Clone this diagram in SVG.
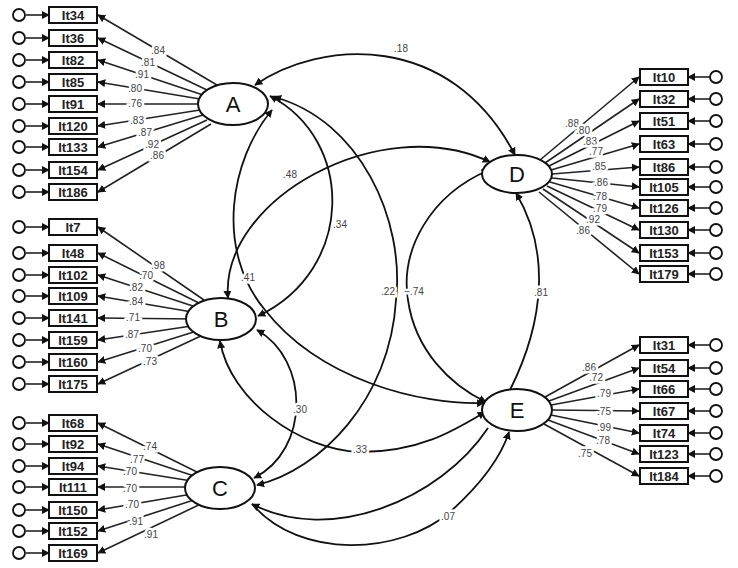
<svg xmlns="http://www.w3.org/2000/svg" width="738" height="568" viewBox="0 0 738 568">
<style>
.bx{fill:#fff;stroke:#111;stroke-width:2}
.bt{font-family:"Liberation Sans",Arial,sans-serif;font-weight:bold;font-size:13px;fill:#222;text-anchor:middle}
.lv{fill:#fff;stroke:#111;stroke-width:2}
.lt{font-family:"Liberation Sans",Arial,sans-serif;font-size:22px;fill:#111;text-anchor:middle}
.er{fill:#fff;stroke:#111;stroke-width:1.8}
.ld{stroke:#222;stroke-width:1.6;fill:none}
.cv{stroke:#111;stroke-width:1.8;fill:none}
.cf{font-family:"Liberation Sans",Arial,sans-serif;font-size:10px;fill:#444;text-anchor:middle;stroke:#fff;stroke-width:5;paint-order:stroke}
</style>
<defs>
<marker id="ar" viewBox="0 0 10 10" refX="9" refY="5" markerWidth="8" markerHeight="8" orient="auto-start-reverse" markerUnits="userSpaceOnUse"><path d="M0,0L10,5L0,10z" fill="#111"/></marker>
</defs>
<rect width="738" height="568" fill="#fff"/>
<g id="connectors">
<g class="ld" marker-end="url(#ar)">
<path d="M26,15H49"/><path d="M26,38H49"/><path d="M26,60H49"/><path d="M26,82H49"/><path d="M26,104H49"/><path d="M26,126H49"/><path d="M26,147H49"/><path d="M26,170H49"/><path d="M26,192H49"/>
<path d="M26,227H49"/><path d="M26,253H49"/><path d="M26,275H49"/><path d="M26,296H49"/><path d="M26,318H49"/><path d="M26,340H49"/><path d="M26,362H49"/><path d="M26,384H49"/>
<path d="M26,423H49"/><path d="M26,444H49"/><path d="M26,466H49"/><path d="M26,487H49"/><path d="M26,510H49"/><path d="M26,531H49"/><path d="M26,553H49"/>
<path d="M710,77H688"/><path d="M710,99H688"/><path d="M710,121H688"/><path d="M710,144H688"/><path d="M710,167H688"/><path d="M710,187H688"/><path d="M710,208H688"/><path d="M710,230H688"/><path d="M710,253H688"/><path d="M710,274H688"/>
<path d="M710,345H688"/><path d="M710,368H688"/><path d="M710,389H688"/><path d="M710,411H688"/><path d="M710,433H688"/><path d="M710,454H688"/><path d="M710,476H688"/>
</g>
<g class="ld" marker-end="url(#ar)">
<path d="M217,85L98,15"/><path d="M207,90L98,38"/><path d="M203,95L98,60"/><path d="M200,99L98,82"/><path d="M199,104L98,104"/><path d="M200,110L98,126"/><path d="M203,115L98,147"/><path d="M207,120L98,170"/><path d="M211,124L98,192"/>
<path d="M204,300L98,227"/><path d="M201,304L98,253"/><path d="M199,308L98,275"/><path d="M198,313L98,296"/><path d="M197,319L98,318"/><path d="M198,325L98,340"/><path d="M200,330L98,362"/><path d="M203,335L98,384"/>
<path d="M203,475L98,423"/><path d="M200,478L98,444"/><path d="M198,482L98,466"/><path d="M197,487L98,487"/><path d="M198,493L98,510"/><path d="M200,498L98,531"/><path d="M205,502L98,553"/>
<path d="M540,160L639,77"/><path d="M545,163L639,99"/><path d="M549,166L639,121"/><path d="M551,170L639,144"/><path d="M552,174L639,167"/><path d="M552,178L639,187"/><path d="M550,182L639,208"/><path d="M547,186L639,230"/><path d="M543,189L639,253"/><path d="M539,192L639,274"/>
<path d="M545,397L639,345"/><path d="M549,401L639,368"/><path d="M551,405L639,389"/><path d="M552,410L639,411"/><path d="M551,415L639,433"/><path d="M548,420L639,454"/><path d="M544,424L639,476"/>
</g>
<g class="cv">
<path d="M255,85C320,40 450,30 515,155" marker-start="url(#ar)" marker-end="url(#ar)"/>
<path d="M228,298C220,200 380,110 490,162" marker-start="url(#ar)" marker-end="url(#ar)"/>
<path d="M270,96C355,140 355,270 258,316" marker-start="url(#ar)" marker-end="url(#ar)"/>
<path d="M272,110C230,160 215,250 265,310C320,380 420,405 484,403" marker-start="url(#ar)" marker-end="url(#ar)"/>
<path d="M274,97C360,120 405,220 396,300C390,400 320,470 257,485" marker-start="url(#ar)" marker-end="url(#ar)"/>
<path d="M489,170C430,195 400,250 408,300C415,350 450,385 486,402" marker-start="url(#ar)" marker-end="url(#ar)"/>
<path d="M510,390C545,320 550,250 516,193" marker-end="url(#ar)"/>
<path d="M257,330C310,360 310,450 254,478" marker-start="url(#ar)" marker-end="url(#ar)"/>
<path d="M220,341C230,400 300,450 360,452C420,452 455,430 485,412" marker-start="url(#ar)" marker-end="url(#ar)"/>
<path d="M488,428C440,500 330,545 252,504" marker-end="url(#ar)"/>
<path d="M252,504C300,560 400,555 450,512C480,485 500,460 509,432" marker-end="url(#ar)"/>
</g>
<g>
<text class="cf" x="401" y="52">.18</text>
<text class="cf" x="290" y="178">.48</text>
<text class="cf" x="340" y="228">.34</text>
<text class="cf" x="248" y="281">.41</text>
<text class="cf" x="388" y="295">.22</text>
<text class="cf" x="414" y="295">−.74</text>
<text class="cf" x="541" y="296">.81</text>
<text class="cf" x="300" y="413">.30</text>
<text class="cf" x="360" y="453">.33</text>
<text class="cf" x="448" y="520">.07</text>
</g>
<g>
<text class="cf" x="158" y="54">.84</text><text class="cf" x="148" y="66">.81</text><text class="cf" x="142" y="78">.91</text><text class="cf" x="135" y="92">.80</text><text class="cf" x="135" y="107">.76</text><text class="cf" x="137" y="124">.83</text><text class="cf" x="145" y="136">.87</text><text class="cf" x="152" y="148">.92</text><text class="cf" x="157" y="159">.86</text>
<text class="cf" x="158" y="269">.98</text><text class="cf" x="146" y="279">.70</text><text class="cf" x="136" y="291">.82</text><text class="cf" x="136" y="305">.84</text><text class="cf" x="133" y="321">.71</text><text class="cf" x="132" y="338">.87</text><text class="cf" x="145" y="352">.70</text><text class="cf" x="150" y="365">.73</text>
<text class="cf" x="150" y="450">.74</text><text class="cf" x="137" y="463">.77</text><text class="cf" x="130" y="475">.70</text><text class="cf" x="130" y="492">.70</text><text class="cf" x="132" y="508">.70</text><text class="cf" x="136" y="525">.91</text><text class="cf" x="151" y="538">.91</text>
<text class="cf" x="572" y="127">.88</text><text class="cf" x="583" y="134">.80</text><text class="cf" x="590" y="145">.83</text><text class="cf" x="596" y="155">.77</text><text class="cf" x="599" y="170">.85</text><text class="cf" x="601" y="186">.86</text><text class="cf" x="600" y="200">.78</text><text class="cf" x="600" y="212">.79</text><text class="cf" x="593" y="223">.92</text><text class="cf" x="583" y="234">.86</text>
<text class="cf" x="589" y="371">.86</text><text class="cf" x="596" y="381">.72</text><text class="cf" x="604" y="397">.79</text><text class="cf" x="604" y="415">.75</text><text class="cf" x="604" y="431">.99</text><text class="cf" x="603" y="444">.78</text><text class="cf" x="585" y="457">.75</text>
</g>
</g>
<g id="A"><ellipse class="lv" cx="233" cy="104" rx="35" ry="21"/><text class="lt" x="233" y="112">A</text></g>
<g id="B"><ellipse class="lv" cx="221" cy="319" rx="35" ry="21"/><text class="lt" x="221" y="327">B</text></g>
<g id="C"><ellipse class="lv" cx="220" cy="488" rx="35" ry="21"/><text class="lt" x="220" y="496">C</text></g>
<g id="D"><ellipse class="lv" cx="517" cy="174" rx="35" ry="19"/><text class="lt" x="517" y="182">D</text></g>
<g id="E"><ellipse class="lv" cx="517" cy="410" rx="35" ry="21"/><text class="lt" x="517" y="418">E</text></g>
<g id="left-items">
<g id="It34"><circle class="er" cx="19" cy="15" r="6"/><rect class="bx" x="49" y="7" width="48" height="16"/><text class="bt" x="73" y="20">It34</text></g>
<g id="It36"><circle class="er" cx="19" cy="38" r="6"/><rect class="bx" x="49" y="30" width="48" height="16"/><text class="bt" x="73" y="43">It36</text></g>
<g id="It82"><circle class="er" cx="19" cy="60" r="6"/><rect class="bx" x="49" y="52" width="48" height="16"/><text class="bt" x="73" y="65">It82</text></g>
<g id="It85"><circle class="er" cx="19" cy="82" r="6"/><rect class="bx" x="49" y="74" width="48" height="16"/><text class="bt" x="73" y="87">It85</text></g>
<g id="It91"><circle class="er" cx="19" cy="104" r="6"/><rect class="bx" x="49" y="96" width="48" height="16"/><text class="bt" x="73" y="109">It91</text></g>
<g id="It120"><circle class="er" cx="19" cy="126" r="6"/><rect class="bx" x="49" y="118" width="48" height="16"/><text class="bt" x="73" y="131">It120</text></g>
<g id="It133"><circle class="er" cx="19" cy="147" r="6"/><rect class="bx" x="49" y="139" width="48" height="16"/><text class="bt" x="73" y="152">It133</text></g>
<g id="It154"><circle class="er" cx="19" cy="170" r="6"/><rect class="bx" x="49" y="162" width="48" height="16"/><text class="bt" x="73" y="175">It154</text></g>
<g id="It186"><circle class="er" cx="19" cy="192" r="6"/><rect class="bx" x="49" y="184" width="48" height="16"/><text class="bt" x="73" y="197">It186</text></g>
<g id="It7"><circle class="er" cx="19" cy="227" r="6"/><rect class="bx" x="49" y="219" width="48" height="16"/><text class="bt" x="73" y="232">It7</text></g>
<g id="It48"><circle class="er" cx="19" cy="253" r="6"/><rect class="bx" x="49" y="245" width="48" height="16"/><text class="bt" x="73" y="258">It48</text></g>
<g id="It102"><circle class="er" cx="19" cy="275" r="6"/><rect class="bx" x="49" y="267" width="48" height="16"/><text class="bt" x="73" y="280">It102</text></g>
<g id="It109"><circle class="er" cx="19" cy="296" r="6"/><rect class="bx" x="49" y="288" width="48" height="16"/><text class="bt" x="73" y="301">It109</text></g>
<g id="It141"><circle class="er" cx="19" cy="318" r="6"/><rect class="bx" x="49" y="310" width="48" height="16"/><text class="bt" x="73" y="323">It141</text></g>
<g id="It159"><circle class="er" cx="19" cy="340" r="6"/><rect class="bx" x="49" y="332" width="48" height="16"/><text class="bt" x="73" y="345">It159</text></g>
<g id="It160"><circle class="er" cx="19" cy="362" r="6"/><rect class="bx" x="49" y="354" width="48" height="16"/><text class="bt" x="73" y="367">It160</text></g>
<g id="It175"><circle class="er" cx="19" cy="384" r="6"/><rect class="bx" x="49" y="376" width="48" height="16"/><text class="bt" x="73" y="389">It175</text></g>
<g id="It68"><circle class="er" cx="19" cy="423" r="6"/><rect class="bx" x="49" y="415" width="48" height="16"/><text class="bt" x="73" y="428">It68</text></g>
<g id="It92"><circle class="er" cx="19" cy="444" r="6"/><rect class="bx" x="49" y="436" width="48" height="16"/><text class="bt" x="73" y="449">It92</text></g>
<g id="It94"><circle class="er" cx="19" cy="466" r="6"/><rect class="bx" x="49" y="458" width="48" height="16"/><text class="bt" x="73" y="471">It94</text></g>
<g id="It111"><circle class="er" cx="19" cy="487" r="6"/><rect class="bx" x="49" y="479" width="48" height="16"/><text class="bt" x="73" y="492">It111</text></g>
<g id="It150"><circle class="er" cx="19" cy="510" r="6"/><rect class="bx" x="49" y="502" width="48" height="16"/><text class="bt" x="73" y="515">It150</text></g>
<g id="It152"><circle class="er" cx="19" cy="531" r="6"/><rect class="bx" x="49" y="523" width="48" height="16"/><text class="bt" x="73" y="536">It152</text></g>
<g id="It169"><circle class="er" cx="19" cy="553" r="6"/><rect class="bx" x="49" y="545" width="48" height="16"/><text class="bt" x="73" y="558">It169</text></g>
</g>
<g id="right-items">
<g id="It10"><circle class="er" cx="716" cy="77" r="6"/><rect class="bx" x="640" y="69" width="48" height="16"/><text class="bt" x="664" y="82">It10</text></g>
<g id="It32"><circle class="er" cx="716" cy="99" r="6"/><rect class="bx" x="640" y="91" width="48" height="16"/><text class="bt" x="664" y="104">It32</text></g>
<g id="It51"><circle class="er" cx="716" cy="121" r="6"/><rect class="bx" x="640" y="113" width="48" height="16"/><text class="bt" x="664" y="126">It51</text></g>
<g id="It63"><circle class="er" cx="716" cy="144" r="6"/><rect class="bx" x="640" y="136" width="48" height="16"/><text class="bt" x="664" y="149">It63</text></g>
<g id="It86"><circle class="er" cx="716" cy="167" r="6"/><rect class="bx" x="640" y="159" width="48" height="16"/><text class="bt" x="664" y="172">It86</text></g>
<g id="It105"><circle class="er" cx="716" cy="187" r="6"/><rect class="bx" x="640" y="179" width="48" height="16"/><text class="bt" x="664" y="192">It105</text></g>
<g id="It126"><circle class="er" cx="716" cy="208" r="6"/><rect class="bx" x="640" y="200" width="48" height="16"/><text class="bt" x="664" y="213">It126</text></g>
<g id="It130"><circle class="er" cx="716" cy="230" r="6"/><rect class="bx" x="640" y="222" width="48" height="16"/><text class="bt" x="664" y="235">It130</text></g>
<g id="It153"><circle class="er" cx="716" cy="253" r="6"/><rect class="bx" x="640" y="245" width="48" height="16"/><text class="bt" x="664" y="258">It153</text></g>
<g id="It179"><circle class="er" cx="716" cy="274" r="6"/><rect class="bx" x="640" y="266" width="48" height="16"/><text class="bt" x="664" y="279">It179</text></g>
<g id="It31"><circle class="er" cx="716" cy="345" r="6"/><rect class="bx" x="640" y="337" width="48" height="16"/><text class="bt" x="664" y="350">It31</text></g>
<g id="It54"><circle class="er" cx="716" cy="368" r="6"/><rect class="bx" x="640" y="360" width="48" height="16"/><text class="bt" x="664" y="373">It54</text></g>
<g id="It66"><circle class="er" cx="716" cy="389" r="6"/><rect class="bx" x="640" y="381" width="48" height="16"/><text class="bt" x="664" y="394">It66</text></g>
<g id="It67"><circle class="er" cx="716" cy="411" r="6"/><rect class="bx" x="640" y="403" width="48" height="16"/><text class="bt" x="664" y="416">It67</text></g>
<g id="It74"><circle class="er" cx="716" cy="433" r="6"/><rect class="bx" x="640" y="425" width="48" height="16"/><text class="bt" x="664" y="438">It74</text></g>
<g id="It123"><circle class="er" cx="716" cy="454" r="6"/><rect class="bx" x="640" y="446" width="48" height="16"/><text class="bt" x="664" y="459">It123</text></g>
<g id="It184"><circle class="er" cx="716" cy="476" r="6"/><rect class="bx" x="640" y="468" width="48" height="16"/><text class="bt" x="664" y="481">It184</text></g>
</g>
</svg>
